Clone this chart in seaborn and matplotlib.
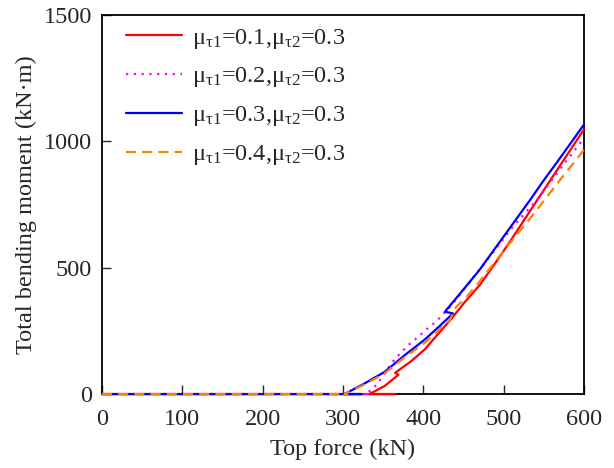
import numpy as np
import pandas as pd
import matplotlib
matplotlib.use("Agg")
import matplotlib.pyplot as plt
import seaborn as sns

# Top force (kN) vs total bending moment (kN·m) for four friction cases
force_01 = [0, 365, 333, 352, 369, 365, 385, 402, 412, 435, 452, 470, 491, 510, 543, 574, 600]
moment_01 = [0, 0, 0, 32, 76, 84, 130, 177, 214, 298, 365, 430, 524, 613, 773, 922, 1047]

force_02 = [0, 334, 326, 335, 344, 352, 362, 373, 383, 395, 404, 415, 435, 460, 491, 510, 543, 574, 600]
moment_02 = [0, 0, 0, 15, 45, 85, 128, 167, 198, 230, 256, 284, 350, 452, 578, 656, 774, 906, 1012]

force_03 = [0, 323, 302, 327, 352, 377, 402, 420, 437, 427, 448, 470, 500, 533, 550, 566, 600]
moment_03 = [0, 0, 0, 42, 88, 154, 216, 268, 319, 326, 406, 491, 623, 768, 846, 915, 1066]

force_04 = [0, 305, 302, 327, 352, 377, 402, 433, 441, 454, 470, 500, 533, 566, 600]
moment_04 = [0, 0, 0, 38, 82, 146, 203, 293, 345, 385, 445, 566, 695, 830, 966]

labels = [r"μ$_{\mathrm{\tau 1}}$=0.1,μ$_{\mathrm{\tau 2}}$=0.3",
          r"μ$_{\mathrm{\tau 1}}$=0.2,μ$_{\mathrm{\tau 2}}$=0.3",
          r"μ$_{\mathrm{\tau 1}}$=0.3,μ$_{\mathrm{\tau 2}}$=0.3",
          r"μ$_{\mathrm{\tau 1}}$=0.4,μ$_{\mathrm{\tau 2}}$=0.3"]
colors = ["#ff0000", "#ff00ff", "#0000ff", "#ff8000"]
styles = ["-", (0, (1, 2.5)), "-", (0, (4.5, 2.8))]

FS = 17.5

sns.set_theme(style="ticks")
plt.rcParams["font.family"] = ["Liberation Serif", "DejaVu Serif"]
plt.rcParams["mathtext.fontset"] = "custom"
plt.rcParams["mathtext.rm"] = "Liberation Serif"
plt.rcParams["mathtext.it"] = "Liberation Serif:italic"
plt.rcParams["font.size"] = FS

fig = plt.figure(figsize=(6.14, 4.68), dpi=100)
ax = fig.add_axes([0.166, 0.158, 0.785, 0.810])

series = [(force_01, moment_01), (force_02, moment_02),
          (force_03, moment_03), (force_04, moment_04)]
for i, ((f, m), lab, c, ls) in enumerate(zip(series, labels, colors, styles)):
    df = pd.DataFrame({"force": f, "moment": m})
    sns.lineplot(data=df, x="force", y="moment", sort=False, estimator=None,
                 color=c, lw=1.6, linestyle=ls, label=lab, ax=ax,
                 clip_on=False, zorder=5 + i)

ax.set_xlim(0, 600)
ax.set_ylim(0, 1500)
ax.set_xticks([0, 100, 200, 300, 400, 500, 600])
ax.set_yticks([0, 500, 1000, 1500])
ax.set_xlabel("Top force (kN)", fontsize=FS, labelpad=6)
ax.set_ylabel("Total bending moment (kN·m)", fontsize=FS, labelpad=5)
ax.tick_params(direction="in", length=6.5, width=1.0, labelsize=FS,
               top=False, right=False)
ax.tick_params(axis="x", pad=11)
ax.tick_params(axis="y", pad=7)
for s in ax.spines.values():
    s.set_linewidth(1.3)
    s.set_color("black")
    s.set_zorder(2)

leg = ax.legend(loc="upper left", frameon=False, fontsize=FS,
                handlelength=2.3, handletextpad=0.4, labelspacing=0.61,
                borderaxespad=0.2, bbox_to_anchor=(0.02, 1.008))

fig.savefig("out.png", dpi=100)
